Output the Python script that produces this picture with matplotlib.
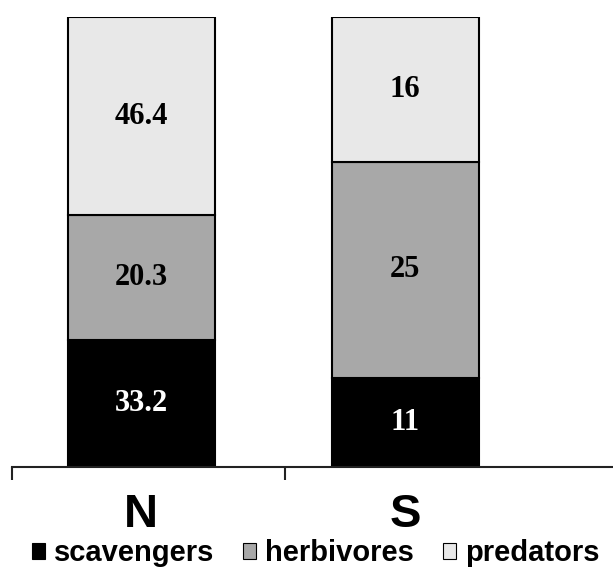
import matplotlib
matplotlib.use("Agg")
import matplotlib.pyplot as plt
from matplotlib.patches import Patch
import numpy as np

# data
sites = ["N", "S"]
groups = ["scavengers", "herbivores", "predators"]
# segment shares (% of bar height)
scavengers = [28.2, 19.8]
herbivores = [27.7, 48.0]
predators = [44.1, 32.2]
# printed values
scavengers_lbl = ["33.2", "11"]
herbivores_lbl = ["20.3", "25"]
predators_lbl = ["46.4", "16"]

colors = ["#000000", "#a8a8a8", "#e8e8e8"]
text_colors = ["white", "black", "black"]

fig = plt.figure(figsize=(6.13, 5.74), dpi=100)
ax = fig.add_axes([12 / 613, 107 / 574, 601 / 613, 450 / 574])

x = np.arange(len(sites))
width = 0.557
bottom = np.zeros(len(sites))
series = [scavengers, herbivores, predators]
labels = [scavengers_lbl, herbivores_lbl, predators_lbl]
for vals, lbls, col, tcol in zip(series, labels, colors, text_colors):
    vals = np.array(vals)
    ax.bar(x, vals, width, bottom=bottom, color=col, edgecolor="black", linewidth=1.5)
    for xi, b, v, t in zip(x, bottom, vals, lbls):
        ax.text(xi, b + v / 2, t, ha="center", va="center", color=tcol,
                fontsize=22, fontweight="bold", family="Liberation Serif")
    bottom += vals

ax.set_xlim(-0.489, 1.788)
ax.set_ylim(0, 100)
for s in ["top", "right", "left"]:
    ax.spines[s].set_visible(False)
ax.spines["bottom"].set_linewidth(1.5)
ax.spines["bottom"].set_color("#222222")
ax.set_yticks([])
ax.set_xticks(x)
ax.set_xticklabels(sites, fontsize=34, fontweight="bold", family="Liberation Sans")
ax.tick_params(axis="x", which="major", length=0, pad=19)
ax.set_xticks([-0.489, 0.545], minor=True)
ax.tick_params(axis="x", which="minor", length=9, width=1.5, color="#222222")

handles = [Patch(facecolor=c, edgecolor="black", linewidth=0.8) for c in colors]
fig.legend(handles, groups, loc="center", bbox_to_anchor=(0.515, 0.036), ncol=3,
           frameon=False, handlelength=0.45, handleheight=0.45, handletextpad=0.3,
           columnspacing=1.0, prop={"family": "Liberation Sans", "weight": "bold", "size": 21})

fig.savefig("out.png", dpi=100)
